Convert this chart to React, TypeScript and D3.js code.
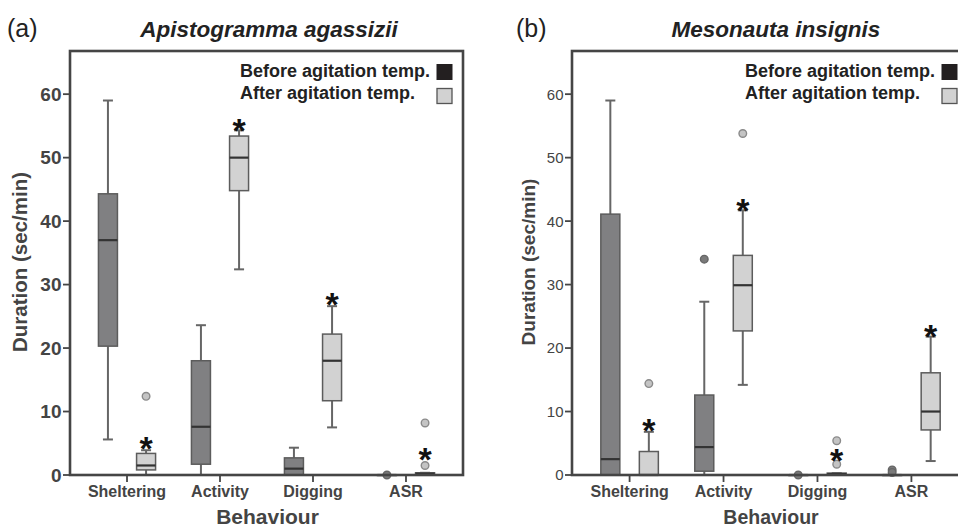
import React from "react";
import * as d3 from "d3";

const categories = ["Sheltering", "Activity", "Digging", "ASR"];
const yTicks = [0, 10, 20, 30, 40, 50, 60];
const legendLabels = ["Before agitation temp.", "After agitation temp."];

// Panel (a) Apistogramma agassizii
const aBeforeMin = [5.6, 0, 0, 0];
const aBeforeQ1 = [20.3, 1.7, 0, 0];
const aBeforeMedian = [37, 7.6, 1.0, 0];
const aBeforeQ3 = [44.3, 18, 2.7, 0];
const aBeforeMax = [59, 23.6, 4.3, 0];
const aBeforeOutliers: number[][] = [[], [], [], [0]];
const aAfterMin = [0, 32.4, 7.5, 0];
const aAfterQ1 = [0.8, 44.8, 11.7, 0.05];
const aAfterMedian = [1.5, 50, 18, 0.2];
const aAfterQ3 = [3.4, 53.4, 22.2, 0.35];
const aAfterMax = [3.9, 54.3, 26.6, 0.35];
const aAfterOutliers: number[][] = [[12.4], [], [], [1.5, 8.2]];
const aStars = [5.4, 55.5, 28.0, 3.6];

// Panel (b) Mesonauta insignis
const bBeforeMin = [0, 0, 0, 0];
const bBeforeQ1 = [0, 0.6, 0, 0];
const bBeforeMedian = [2.5, 4.4, 0, 0];
const bBeforeQ3 = [41.1, 12.6, 0, 0];
const bBeforeMax = [59, 27.3, 0, 0];
const bBeforeOutliers: number[][] = [[], [34], [0], [0.8, 0.4]];
const bAfterMin = [0, 14.2, 0, 2.2];
const bAfterQ1 = [0, 22.7, 0.05, 7.1];
const bAfterMedian = [0, 29.9, 0.15, 10];
const bAfterQ3 = [3.7, 34.6, 0.3, 16.1];
const bAfterMax = [6.8, 41.7, 0.3, 21.8];
const bAfterOutliers: number[][] = [[14.4], [53.8], [1.7, 5.4], []];
const bStars = [8.2, 42.9, 3.5, 23.0];

const FONT = "'Liberation Sans', Arial, Helvetica, sans-serif";
const AXIS = "#454545";
const DARK_FILL = "#808082";
const LIGHT_FILL = "#d2d2d2";
const BOX_STROKE = "#5c5c5c";
const WHISKER = "#666";

type Group = {
  min: number[]; q1: number[]; med: number[]; q3: number[]; max: number[];
  out: number[][]; fill: string; outFill: string; outStroke: string;
};

type PanelProps = {
  tag: string; title: string; tagX: number; titleX: number;
  left: number; right: number; top: number; bottom: number;
  before: Group; after: Group; stars: number[];
  legendX: number; yLabelX: number; yLabelSize: number;
  yTickBold: boolean; yTickSize: number; xTitleX: number; xTitleSize: number; xTitleY: number;
};

function Panel(p: PanelProps) {
  const y = d3.scaleLinear().domain([0, 66.8]).range([p.bottom, p.top]);
  const x = d3.scaleBand<string>().domain(categories).range([p.left, p.right]).paddingInner(0).paddingOuter(0.113);
  const step = x.step();
  const dx = step * 0.205;
  const bw = 19;
  const cap = 10;
  const center = (c: string) => (x(c) as number) + x.bandwidth() / 2;

  const renderGroup = (g: Group, off: number, key: string) =>
    categories.map((c, i) => {
      const cx = center(c) + off * dx;
      const yq1 = y(g.q1[i]);
      const yq3 = y(g.q3[i]);
      return (
        <g key={key + c}>
          <line x1={cx} x2={cx} y1={y(g.max[i])} y2={yq3} stroke={WHISKER} strokeWidth={2} />
          <line x1={cx} x2={cx} y1={yq1} y2={y(g.min[i])} stroke={WHISKER} strokeWidth={2} />
          <line x1={cx - cap / 2} x2={cx + cap / 2} y1={y(g.max[i])} y2={y(g.max[i])} stroke={WHISKER} strokeWidth={2} />
          <line x1={cx - cap / 2} x2={cx + cap / 2} y1={y(g.min[i])} y2={y(g.min[i])} stroke={WHISKER} strokeWidth={2} />
          <rect x={cx - bw / 2} y={yq3} width={bw} height={Math.max(yq1 - yq3, 0.5)} fill={g.fill} stroke={BOX_STROKE} strokeWidth={1.5} />
          <line x1={cx - bw / 2} x2={cx + bw / 2} y1={y(g.med[i])} y2={y(g.med[i])} stroke="#333" strokeWidth={2.2} />
          {g.out[i].map((v, j) => (
            <circle key={j} cx={cx} cy={y(v)} r={3.8} fill={g.outFill} stroke={g.outStroke} strokeWidth={1.4} />
          ))}
        </g>
      );
    });

  return (
    <g fontFamily={FONT}>
      <text x={p.tagX} y={37} fontSize={25} fill="#222">{p.tag}</text>
      <text x={p.titleX} y={37} fontSize={22.5} fontWeight="bold" fontStyle="italic" textAnchor="middle" fill="#222">{p.title}</text>
      {renderGroup(p.before, -1, "b")}
      {renderGroup(p.after, 1, "a")}
      {categories.map((c, i) => (
        <text key={"s" + c} x={center(c) + dx} y={y(p.stars[i]) + 19} fontSize={34} fontWeight="bold" textAnchor="middle" fill="#111">*</text>
      ))}
      <rect x={p.left} y={p.top} width={p.right - p.left} height={p.bottom - p.top} fill="none" stroke={AXIS} strokeWidth={2.6} />
      {yTicks.map((t) => (
        <g key={"y" + t}>
          <line x1={p.left - 7} x2={p.left} y1={y(t)} y2={y(t)} stroke={AXIS} strokeWidth={1.8} />
          <text x={p.left - 8.5} y={y(t)} dy="0.36em" textAnchor="end" fontSize={p.yTickSize} fontWeight={p.yTickBold ? "bold" : "normal"} fill="#444">{t}</text>
        </g>
      ))}
      {categories.map((c) => (
        <g key={"x" + c}>
          <line x1={center(c)} x2={center(c)} y1={p.bottom} y2={p.bottom + 7} stroke={AXIS} strokeWidth={1.8} />
          <text x={center(c)} y={p.bottom + 22} textAnchor="middle" fontSize={16} fontWeight="bold" fill="#444">{c}</text>
        </g>
      ))}
      <text x={p.xTitleX} y={p.xTitleY} textAnchor="middle" fontSize={p.xTitleSize} fontWeight="bold" fill="#444">Behaviour</text>
      <text transform={`translate(${p.yLabelX},262) rotate(-90)`} textAnchor="middle" dy="0.35em" fontSize={p.yLabelSize} fontWeight="bold" fill="#444">Duration (sec/min)</text>
      <text x={p.legendX} y={77} fontSize={18} fontWeight="bold" fill="#222">{legendLabels[0]}</text>
      <text x={p.legendX} y={98.5} fontSize={18} fontWeight="bold" fill="#222">{legendLabels[1]}</text>
      <rect x={p.legendX + 197} y={64.5} width={15} height={15} fill="#231f20" stroke="#231f20" strokeWidth={1} />
      <rect x={p.legendX + 197} y={88.5} width={15} height={15} fill={LIGHT_FILL} stroke="#555" strokeWidth={1.3} />
    </g>
  );
}

export default function App() {
  const aBefore: Group = { min: aBeforeMin, q1: aBeforeQ1, med: aBeforeMedian, q3: aBeforeQ3, max: aBeforeMax, out: aBeforeOutliers, fill: DARK_FILL, outFill: "#7a7a7a", outStroke: "#666" };
  const aAfter: Group = { min: aAfterMin, q1: aAfterQ1, med: aAfterMedian, q3: aAfterQ3, max: aAfterMax, out: aAfterOutliers, fill: LIGHT_FILL, outFill: "#c4c4c4", outStroke: "#8a8a8a" };
  const bBefore: Group = { min: bBeforeMin, q1: bBeforeQ1, med: bBeforeMedian, q3: bBeforeQ3, max: bBeforeMax, out: bBeforeOutliers, fill: DARK_FILL, outFill: "#7a7a7a", outStroke: "#666" };
  const bAfter: Group = { min: bAfterMin, q1: bAfterQ1, med: bAfterMedian, q3: bAfterQ3, max: bAfterMax, out: bAfterOutliers, fill: LIGHT_FILL, outFill: "#c4c4c4", outStroke: "#8a8a8a" };
  return (
    <svg width={958} height={528} style={{ position: "absolute", left: 0, top: 0, background: "#fff" }}>
      <rect width={958} height={528} fill="#fff" />
      <Panel tag="(a)" title="Apistogramma agassizii" tagX={7} titleX={269}
        left={70} right={463} top={51} bottom={475}
        before={aBefore} after={aAfter} stars={aStars}
        legendX={240} yLabelX={20} yLabelSize={20.5}
        yTickBold={true} yTickSize={19} xTitleX={267.5} xTitleSize={21} xTitleY={524} />
      <Panel tag="(b)" title="Mesonauta insignis" tagX={516} titleX={776}
        left={572} right={969} top={51} bottom={475}
        before={bBefore} after={bAfter} stars={bStars}
        legendX={745} yLabelX={528} yLabelSize={19}
        yTickBold={false} yTickSize={15} xTitleX={771} xTitleSize={19.5} xTitleY={524} />
    </svg>
  );
}
